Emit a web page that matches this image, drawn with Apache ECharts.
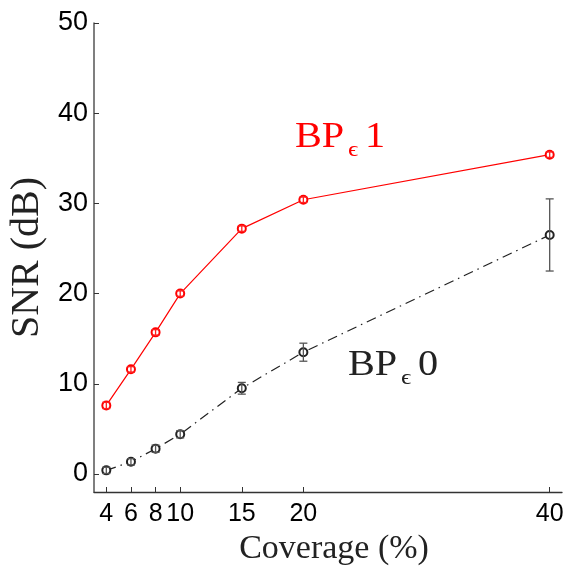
<!DOCTYPE html>
<html>
<head>
<meta charset="utf-8">
<script src="https://cdn.jsdelivr.net/npm/echarts@6/dist/echarts.min.js"></script>
<style>
html,body{margin:0;padding:0;background:#fff;}
#main{width:567px;height:566px;}
</style>
</head>
<body>
<div id="main"></div>
<script>
// ---- data ----
var coverage = [4, 6, 8, 10, 15, 20, 40];
var bp1 = [7.6, 11.6, 15.7, 20.0, 27.2, 30.4, 35.4];
var bp1Err = [0.35, 0.3, 0.3, 0.3, 0.3, 0.3, 0.3];
var bp0 = [0.4, 1.35, 2.8, 4.4, 9.5, 13.5, 26.5];
var bp0Err = [0.35, 0.35, 0.4, 0.4, 0.65, 1.0, 4.0];
var xTicks = [4, 6, 8, 10, 15, 20, 40];
var yTicks = [0, 10, 20, 30, 40, 50];

function pts(ys){ return coverage.map(function(x,i){ return [x, ys[i]]; }); }
function errs(ys, es){ return coverage.map(function(x,i){ return [x, ys[i]-es[i], ys[i]+es[i]]; }); }

function errRender(color){
  return function(params, api){
    var x = api.value(0);
    var lo = api.coord([x, api.value(1)]);
    var hi = api.coord([x, api.value(2)]);
    var hw = 4;
    var st = {stroke: color, lineWidth: 1.3};
    return {type:'group', children:[
      {type:'line', shape:{x1:lo[0], y1:lo[1], x2:hi[0], y2:hi[1]}, style:st},
      {type:'line', shape:{x1:lo[0]-hw, y1:lo[1], x2:lo[0]+hw, y2:lo[1]}, style:st},
      {type:'line', shape:{x1:hi[0]-hw, y1:hi[1], x2:hi[0]+hw, y2:hi[1]}, style:st}
    ]};
  };
}

var chart = echarts.init(document.getElementById('main'), null, {renderer:'canvas'});
var serif = '"Liberation Serif", "DejaVu Serif", serif';
var sans = '"Liberation Sans", Arial, sans-serif';

function label(parts, color){
  return parts.map(function(p){
    return {type:'text', x:p[0], y:p[1], scaleX:1.15, z:100,
      style:{text:p[2], x:0, y:0, font:p[3]+'px '+serif, fill:color, textAlign:'left', textVerticalAlign:'bottom'}};
  });
}

var option = {
  animation:false,
  backgroundColor:'#fff',
  grid:{left:94, right:5, top:23, bottom:74, containLabel:false, outerBoundsMode:'none'},
  xAxis:{
    type:'value', min:3, max:41,
    name:'Coverage (%)', nameLocation:'middle', nameGap:40,
    nameTextStyle:{fontFamily:serif, fontSize:34, color:'#222', padding:[0,0,0,12]},
    axisLine:{show:true, onZero:false, lineStyle:{color:'#333', width:1.3}},
    axisTick:{show:true, inside:true, length:5, customValues:xTicks, lineStyle:{color:'#333'}},
    axisLabel:{customValues:xTicks, fontFamily:sans, fontSize:25, color:'#000', margin:10},
    splitLine:{show:false}
  },
  yAxis:{
    type:'value', min:-2, max:50,
    name:'SNR (dB)', nameLocation:'middle', nameGap:44, nameRotate:90,
    nameTextStyle:{fontFamily:serif, fontSize:40, color:'#222'},
    axisLine:{show:true, onZero:false, lineStyle:{color:'#555', width:1.5}},
    axisTick:{show:true, inside:true, length:5, customValues:yTicks, lineStyle:{color:'#333'}},
    axisLabel:{customValues:yTicks, fontFamily:sans, fontSize:27, color:'#000', margin:6},
    splitLine:{show:false}
  },
  series:[
    {type:'line', data:pts(bp1), symbol:'emptyCircle', symbolSize:8,
     itemStyle:{color:'#ff0000', borderWidth:1.2}, lineStyle:{color:'#ff0000', width:1.2}, z:3},
    {type:'custom', data:errs(bp1, bp1Err), renderItem:errRender('#ff2020'), z:4},
    {type:'line', data:pts(bp0), symbol:'emptyCircle', symbolSize:8,
     itemStyle:{color:'#222', borderWidth:1.2}, lineStyle:{color:'#222', width:1.2, type:[10,5,1.5,5]}, z:3},
    {type:'custom', data:errs(bp0, bp0Err), renderItem:errRender('#555'), z:4}
  ],
  graphic: label([[295,155,'BP',35],[348,161,'\u03f5',22],[365,155,'1',35]], '#ff0000')
    .concat(label([[348,383,'BP',35],[401,389,'\u03f5',22],[418,383,'0',35]], '#222'))
};
chart.setOption(option);
</script>
</body>
</html>
